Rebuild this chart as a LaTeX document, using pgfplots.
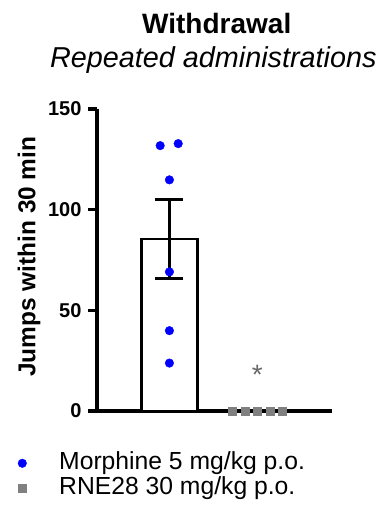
\documentclass[border=0pt]{standalone}
\usepackage{pgfplots}
\pgfplotsset{compat=1.18}
\usepackage{fontspec}
\setmainfont{Liberation Sans}
\definecolor{dotblue}{RGB}{0,0,255}
\definecolor{sqgrey}{RGB}{128,128,128}
\begin{document}
\begin{tikzpicture}[x=1bp,y=1bp]
\useasboundingbox (0,0) rectangle (383,513);
\node[anchor=base, font=\fontsize{28bp}{30bp}\selectfont\bfseries] at (216.7,479.7) {Withdrawal};
\node[anchor=base, font=\fontsize{28.8bp}{30bp}\selectfont\itshape] at (213.3,445.3) {Repeated administrations};
\begin{axis}[
  at={(97bp,102bp)}, anchor=origin,
  scale only axis, width=235bp, height=302bp,
  xmin=0.176, xmax=2.85, ymin=0, ymax=150,
  axis x line*=bottom, axis y line*=left,
  axis line style={line width=3.2bp, -},
  ytick={0,50,100,150}, xtick=\empty,
  tick align=outside, major tick length=9bp,
  tick style={line width=3.2bp, black},
  /pgf/number format/assume math mode=true,
  yticklabel style={font=\fontsize{20bp}{20bp}\selectfont\bfseries, xshift=-3bp},
  ylabel={Jumps within 30 min},
  every axis y label/.style={at={(axis description cs:-0.289,0.511)}, anchor=center, rotate=90,
    font=\fontsize{24.4bp}{24bp}\selectfont\bfseries},
  clip=false,
  legend cell align=left,
  legend style={at={(axis description cs:-0.337,-0.136)}, anchor=north west, draw=none, fill=none,
    inner sep=0pt, font=\fontsize{24.7bp}{25bp}\selectfont, nodes={inner sep=0pt, text height=17bp, text depth=5bp},
    /tikz/every odd column/.append style={column sep=32.6bp}, row sep=3bp},
]
\addplot[forget plot, ybar, bar width=0.636, fill=white, draw=black, line width=2.7bp,
  error bars/.cd, y dir=both, y explicit,
  error bar style={line width=3bp, black},
  error mark options={rotate=90, mark size=14bp, line width=3bp, black}]
  coordinates {(1,85.5) +- (0,19.7)};
\addplot[forget plot, only marks, mark=*, color=dotblue, mark size=4.3bp] coordinates {
  (0.895,131.8) (1.1,132.8) (1,114.8) (1,69.1) (1,39.9) (1,23.8)};
\addplot[forget plot, only marks, mark=square*, color=sqgrey, mark size=4bp] coordinates {
  (1.716,0) (1.858,0) (2,0) (2.142,0) (2.284,0)};
\node[anchor=base, text=sqgrey!80!black, font=\fontsize{28bp}{28bp}\selectfont] at (axis cs:2,13) {*};
\addlegendimage{only marks, mark=*, color=dotblue, mark size=4.3bp}
\addlegendentry{Morphine 5 mg/kg p.o.}
\addlegendimage{only marks, mark=square*, color=sqgrey, mark size=4bp}
\addlegendentry{RNE28 30 mg/kg p.o.}
\end{axis}
\end{tikzpicture}
\end{document}
